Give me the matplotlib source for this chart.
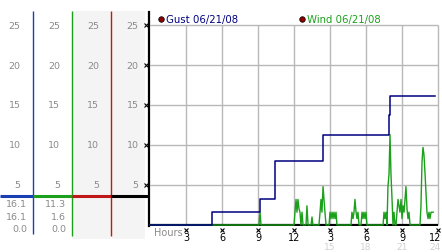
import matplotlib
matplotlib.use('Agg')
import matplotlib.pyplot as plt

# gust steps (hours, value)
gust_hours = [0, 5.15, 9.17, 10.4, 14.4, 19.92, 20.0, 23.75]
gust_vals = [0, 1.6, 3.2, 8.0, 11.3, 13.7, 16.1, 16.1]

# wind samples (hours, value)
wind_hours = [0, 9.08, 9.17, 9.25,
              12.0, 12.08, 12.17, 12.25, 12.33, 12.42, 12.5, 12.58, 12.67, 12.75,
              13.0, 13.08, 13.17, 13.42, 13.5, 13.58,
              14.08, 14.17, 14.25, 14.33, 14.42, 14.5, 14.58, 14.67,
              14.92, 15.0, 15.08, 15.17, 15.25, 15.33, 15.42, 15.5, 15.58,
              16.75, 16.83, 16.92, 17.0, 17.08, 17.17, 17.25, 17.33, 17.42,
              17.58, 17.67, 17.75, 17.83, 17.92, 18.0, 18.08,
              19.42, 19.5, 19.58, 19.67, 19.75, 19.83, 19.92, 20.0, 20.08, 20.17, 20.25, 20.33, 20.42,
              20.5, 20.58, 20.67, 20.75, 20.83, 20.92, 21.0, 21.08, 21.17, 21.25, 21.33, 21.42, 21.5, 21.58, 21.67,
              22.5, 22.58, 22.67, 22.75, 22.83, 22.92, 23.0, 23.08, 23.17, 23.25, 23.33, 23.42, 23.5, 23.6]
wind_vals = [0, 0, 1.6, 0,
             0, 1.6, 3.2, 1.6, 3.2, 2.0, 1.6, 0, 1.6, 0,
             0, 2.4, 0, 0, 1.0, 0,
             0, 1.6, 3.2, 1.6, 4.8, 3.2, 1.6, 0,
             0, 1.6, 0.8, 1.6, 0.8, 1.6, 0.8, 1.6, 0,
             0, 1.6, 0.8, 1.6, 3.2, 1.6, 0.8, 1.6, 0,
             0, 1.6, 0.8, 1.6, 0.8, 1.6, 0,
             0, 1.6, 0.8, 1.6, 0, 4.8, 6.4, 11.3, 6.4, 3.2, 0, 1.6, 0,
             0, 1.6, 3.2, 2.4, 1.6, 3.2, 0.8, 2.4, 1.6, 3.2, 4.8, 2.0, 0.8, 1.6, 0,
             0, 2.4, 8.0, 9.7, 8.8, 6.4, 4.0, 1.6, 0.8, 1.6, 0.8, 1.6, 1.6, 1.6]

y_ticks = [5, 10, 15, 20, 25]
x_ticks = [3, 6, 9, 12, 15, 18, 21, 24]
x_labels = ['3', '6', '9', '12', '3', '6', '9', '12']
x_labels2 = ['15', '18', '21', '24']
gust_stats = ['16.1', '16.1', '0.0']
wind_stats = ['11.3', '1.6', '0.0']

NAVY = '#000080'
GREEN = '#1aa01a'
BLUE = '#1a3fb4'
RED = '#c01818'
GRAY = '#8a8a8a'

fig = plt.figure(figsize=(4.42, 2.53), dpi=100)

# left panel drawn in pixel coordinates
pan = fig.add_axes([0, 0, 1, 1])
pan.set_xlim(0, 442)
pan.set_ylim(253, 0)
pan.axis('off')
pan.fill_between([72, 111], 12, 240, color='#f4f4f4', lw=0)
pan.fill_between([112, 145], 12, 240, color='#f4f4f4', lw=0)
pan.vlines(33, 12, 235, color=BLUE, lw=1)
pan.vlines(72, 12, 237, color=GREEN, lw=1)
pan.vlines(111, 12, 237, color=RED, lw=1)
pan.hlines(197, 0, 33, color=BLUE, lw=2.2)
pan.hlines(197, 33, 72, color=GREEN, lw=2.2)
pan.hlines(197, 72, 111, color=RED, lw=2.2)
pan.hlines(197, 111, 149, color='black', lw=2.2)
for xr in [20.5, 60, 99, 138.5]:
    for v in y_ticks:
        pan.text(xr, 226 - 8 * v, str(v), ha='right', va='center',
                 fontsize=6.8, color=GRAY)
for i, (g, w) in enumerate(zip(gust_stats, wind_stats)):
    yy = [205, 218, 230][i]
    pan.text(27, yy, g, ha='right', va='center', fontsize=6.8, color=GRAY)
    pan.text(66, yy, w, ha='right', va='center', fontsize=6.8, color=GRAY)

# main chart
ax = fig.add_axes([149 / 442, (253 - 227) / 253, (440 - 149) / 442, (227 - 13) / 253])
ax.set_facecolor('none')
ax.set_xlim(-1 / 12, (440 - 150) / 12)
ax.set_ylim(-1 / 8, (226 - 13) / 8)
for s in ['top', 'right', 'bottom']:
    ax.spines[s].set_visible(False)
ax.spines['left'].set_color('black')
ax.spines['left'].set_linewidth(1.6)
ax.set_xticks([])
ax.set_yticks([])

ax.hlines(y_ticks, 0, 24, color='#b8b8b8', lw=1, zorder=1)
ax.vlines(x_ticks, 0, 25, color='#b8b8b8', lw=1, zorder=1)
ax.hlines(0, -1 / 12, 24, color='black', lw=1.6, zorder=2)

ax.plot(wind_hours, wind_vals, color=GREEN, lw=1, zorder=3)
ax.step(gust_hours, gust_vals, where='post', color=NAVY, lw=1.1, zorder=4)

# tick marks and labels
ax.plot([-0.33] * len(y_ticks), y_ticks, 'x', color='black', ms=2.2, mew=0.8, clip_on=False)
ax.plot(x_ticks, [-0.6] * len(x_ticks), 'x', color='black', ms=2.2, mew=0.8, clip_on=False)
for h, lab in zip(x_ticks, x_labels):
    ax.text(min(h, 23.75), -1.55, lab, ha='center', va='center', fontsize=7, color='black', clip_on=False)
for h, lab in zip(x_ticks[4:], x_labels2):
    ax.text(min(h, 23.75), -2.7, lab, ha='center', va='center', fontsize=6.5, color='#d0d0d0', clip_on=False)
ax.text(0.3, -0.85, 'Hours', ha='left', va='center', fontsize=7, color=GRAY, clip_on=False)

# legend
ax.plot([0.92, 12.67], [25.75, 25.75], 'o', ms=4, color='#8b0000', mec='black', mew=0.5, clip_on=False)
ax.text(1.3, 25.75, 'Gust 06/21/08', ha='left', va='center', fontsize=7.3, color=NAVY)
ax.text(13.05, 25.75, 'Wind 06/21/08', ha='left', va='center', fontsize=7.3, color=GREEN)

fig.savefig('out.png', dpi=100)
